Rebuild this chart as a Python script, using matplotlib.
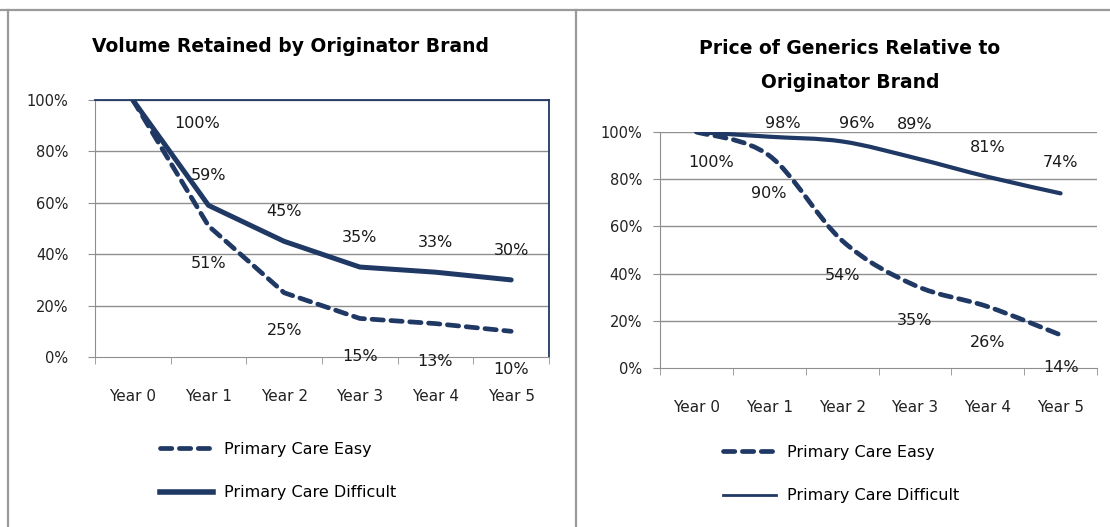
import numpy as np
import matplotlib
matplotlib.use("Agg")
import matplotlib.pyplot as plt
from matplotlib.path import Path
from matplotlib.patches import PathPatch
from matplotlib.lines import Line2D

# data
years = ["Year 0", "Year 1", "Year 2", "Year 3", "Year 4", "Year 5"]
volume_easy = [100, 51, 25, 15, 13, 10]
volume_difficult = [100, 59, 45, 35, 33, 30]
price_easy = [100, 90, 54, 35, 26, 14]
price_difficult = [100, 98, 96, 89, 81, 74]
yticks = [0, 20, 40, 60, 80, 100]

NAVY = "#1f3864"
GRID = "#8f8f8f"
DASH = (0, (2.4, 1.6))

W, H = 1110, 527
fig = plt.figure(figsize=(W / 100, H / 100), dpi=100)


def px_axes(x0, y0, x1, y1):
    # rectangle given in image pixels (top-left origin)
    return fig.add_axes([x0 / W, 1 - y1 / H, (x1 - x0) / W, (y1 - y0) / H])


def smooth(ax, values, lw, ls):
    # Excel-style smoothed line: cubic Bezier through the points
    x = np.arange(len(values), dtype=float)
    y = np.asarray(values, dtype=float)
    n = len(y)
    verts = [(x[0], y[0])]
    codes = [Path.MOVETO]
    for i in range(n - 1):
        a = max(i - 1, 0)
        b = min(i + 2, n - 1)
        c1 = (x[i] + (x[i + 1] - x[a]) / 6, y[i] + (y[i + 1] - y[a]) / 6)
        c2 = (x[i + 1] - (x[b] - x[i]) / 6, y[i + 1] - (y[b] - y[i]) / 6)
        verts += [c1, c2, (x[i + 1], y[i + 1])]
        codes += [Path.CURVE4] * 3
    patch = PathPatch(Path(verts, codes), fill=False, edgecolor=NAVY,
                      linewidth=lw, linestyle=ls, capstyle="round", zorder=3)
    ax.add_patch(patch)


def style_axes(ax, box, ylab_pad):
    ax.set_xlim(-0.5, len(years) - 0.5)
    ax.set_ylim(0, 100)
    ax.set_yticks(yticks)
    ax.set_yticklabels([f"{v}%" for v in yticks], fontsize=10.5, color="#222222")
    ax.set_xticks(range(len(years)))
    ax.set_xticklabels(years, fontsize=11, color="#222222")
    ax.set_xticks(np.arange(-0.5, len(years), 1.0), minor=True)
    ax.tick_params(axis="x", which="major", length=0, pad=23)
    ax.tick_params(axis="x", which="minor", length=5, color=GRID, direction="out")
    ax.tick_params(axis="y", length=5, color=GRID, direction="out", pad=ylab_pad)
    for v in yticks[1:]:
        ax.axhline(v, color=GRID, lw=1.0, zorder=1)
    ax.spines["left"].set_color(GRID)
    ax.spines["bottom"].set_color(GRID)
    if box:
        ax.spines["top"].set_color(NAVY)
        ax.spines["right"].set_color(NAVY)
        ax.spines["top"].set_linewidth(1.3)
        ax.spines["right"].set_linewidth(1.3)
    else:
        ax.spines["top"].set_visible(False)
        ax.spines["right"].set_visible(False)


def labels(ax, values, offsets):
    for i, (v, (dx, dy)) in enumerate(zip(values, offsets)):
        if dx is None:
            continue
        ax.text(i + dx, v + dy, f"{v}%", ha="center", va="center",
                fontsize=11.5, color="#1a1a1a", zorder=4, clip_on=False)


# left panel
ax1 = px_axes(95, 100, 549, 357)
style_axes(ax1, True, 14)
ax1.plot(range(len(years)), volume_easy, color=NAVY, lw=3.4, ls=DASH,
         solid_joinstyle="round", dash_capstyle="round", zorder=3)
ax1.plot(range(len(years)), volume_difficult, color=NAVY, lw=3.6, ls="-",
         solid_joinstyle="round", solid_capstyle="round", zorder=3)
labels(ax1, volume_easy, [(None, None)] + [(0, -14.7)] * 5)
labels(ax1, volume_difficult, [(0.85, -9)] + [(0, 11.5)] * 5)
fig.text(290 / W, 1 - 47 / H, "Volume Retained by Originator Brand",
         ha="center", va="center", fontsize=13.5, fontweight="bold")

# right panel
ax2 = px_axes(660, 132, 1097, 368)
style_axes(ax2, False, 8)
smooth(ax2, price_easy, 3.4, DASH)
smooth(ax2, price_difficult, 3.0, "-")
labels(ax2, price_easy, [(0.2, -13), (0, -16), (0, -15), (0, -15), (0, -15.4), (0, -14)])
labels(ax2, price_difficult, [(None, None), (0.18, 5.8), (0.2, 7.8), (0, 14), (0, 12.6), (0, 13)])
fig.text(850 / W, 1 - 65 / H, "Price of Generics Relative to\nOriginator Brand",
         ha="center", va="center", fontsize=13.5, fontweight="bold", linespacing=2.0)

# legends
h_easy = Line2D([], [], color=NAVY, lw=3.4, ls=DASH, dash_capstyle="round")
h_diff_thick = Line2D([], [], color=NAVY, lw=4.0, ls="-")
h_diff_thin = Line2D([], [], color=NAVY, lw=2.0, ls="-")
names = ["Primary Care Easy", "Primary Care Difficult"]
for x0, y0, handles in [(160, 471, [h_easy, h_diff_thick]), (723, 474, [h_easy, h_diff_thin])]:
    fig.legend(handles, names, loc="center left", bbox_to_anchor=(x0 / W, 1 - y0 / H),
               frameon=False, fontsize=11.5, handlelength=3.3, handletextpad=0.7,
               labelspacing=1.8, borderpad=0, borderaxespad=0)

# outer frame lines
fig.add_artist(Line2D([0, 1], [1 - 10 / H, 1 - 10 / H], color="#9a9a9a", lw=1.6))
fig.add_artist(Line2D([7.5 / W, 7.5 / W], [0, 1 - 10 / H], color="#9a9a9a", lw=1.6))
fig.add_artist(Line2D([576 / W, 576 / W], [0, 1 - 10 / H], color="#9a9a9a", lw=1.6))

fig.savefig("out.png", dpi=100, facecolor="white")
